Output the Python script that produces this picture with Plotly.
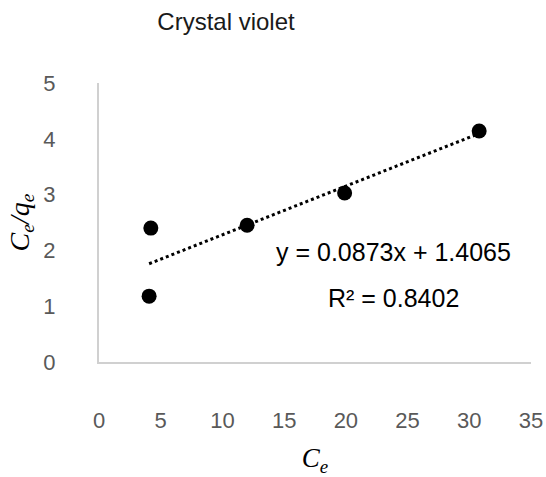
import plotly.graph_objects as go

# Langmuir-type linearisation for crystal violet
ce = [4.06, 4.2, 12.0, 19.9, 30.8]
ce_qe = [1.18, 2.4, 2.45, 3.03, 4.14]

slope = 0.0873
intercept = 1.4065
r2 = 0.8402

x_ticks = [0, 5, 10, 15, 20, 25, 30, 35]
y_ticks = [0, 1, 2, 3, 4, 5]

fit_x = [min(ce), max(ce)]
fit_y = [slope * v + intercept for v in fit_x]

fig = go.Figure()
fig.add_trace(go.Scatter(
    x=fit_x, y=fit_y, mode="lines",
    line=dict(color="black", width=3, dash="dot"),
    hoverinfo="skip", showlegend=False,
))
fig.add_trace(go.Scatter(
    x=ce, y=ce_qe, mode="markers",
    marker=dict(color="black", size=15),
    showlegend=False,
))

sans = "Liberation Sans, Arial"
serif = "Liberation Serif, Times New Roman"
tick_font = dict(family=sans, size=22, color="#595959")
axis_line = "#d0d0d0"

fig.update_layout(
    width=546, height=477,
    margin=dict(l=99, r=15, t=83, b=115),
    paper_bgcolor="white", plot_bgcolor="white",
    title=dict(text="Crystal violet", x=226 / 546, xanchor="center",
               y=1 - 22 / 477, yanchor="middle",
               font=dict(family=sans, size=24, color="#1a1a1a")),
    xaxis=dict(
        range=[0, 35], tickvals=x_ticks, showgrid=False, zeroline=False,
        showline=True, linecolor=axis_line, linewidth=2, automargin=False,
        tickfont=tick_font, ticks="outside", ticklen=38,
        tickcolor="rgba(0,0,0,0)",
        title=dict(text="<i>C<sub>e</sub></i>", standoff=18,
                   font=dict(family=serif, size=27, color="black")),
    ),
    yaxis=dict(
        range=[0, 5], tickvals=y_ticks, showgrid=False, zeroline=False,
        showline=True, linecolor=axis_line, linewidth=2, automargin=False,
        tickfont=tick_font, ticks="outside", ticklen=37,
        tickcolor="rgba(0,0,0,0)",
        title=dict(text="<i>C<sub>e</sub>/q<sub>e</sub></i>", standoff=6,
                   font=dict(family=serif, size=28, color="black")),
    ),
    annotations=[
        dict(x=23.9, y=1.97, xref="x", yref="y", showarrow=False,
             text=f"y = {slope}x + {intercept}",
             font=dict(family=sans, size=25, color="black")),
        dict(x=23.9, y=1.15, xref="x", yref="y", showarrow=False,
             text=f"R² = {r2}",
             font=dict(family=sans, size=25, color="black")),
    ],
)

fig.write_html("out.html")
